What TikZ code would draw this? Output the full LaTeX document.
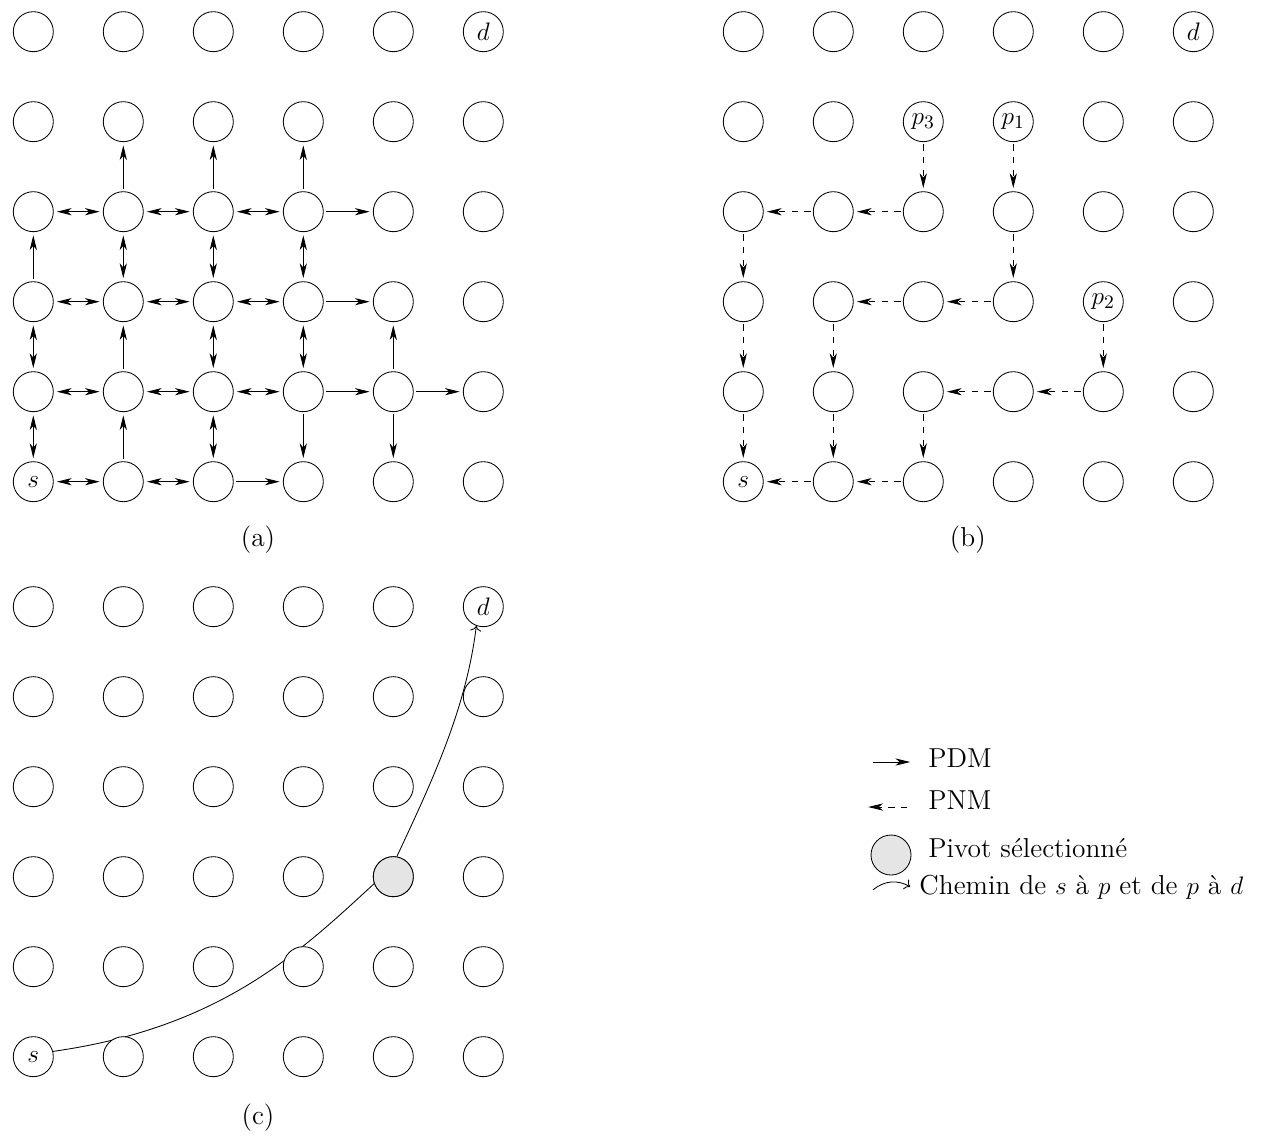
\documentclass[tikz,border=0pt]{standalone}
\usepackage{fontspec}
\usepackage{tikz}
\usetikzlibrary{arrows.meta,backgrounds}

\tikzset{
  noeud/.style={draw, circle, fill=white, minimum size=0.667cm, inner sep=0pt},
  pivot/.style={noeud, fill=gray!20},
  tete/.tip={Stealth[length=7pt,width=3.4pt,inset=2pt]},
  pdm/.style={-tete, shorten >=1.5pt, shorten <=1pt},
  pdmdouble/.style={tete-tete, shorten >=1.5pt, shorten <=1.5pt},
  pnm/.style={-tete, dashed, shorten >=1.5pt, shorten <=1pt},
}

\begin{document}
\begin{tikzpicture}[font=\fontsize{13}{15.6}\selectfont]

\useasboundingbox (0,0) rectangle (21.05,-18.967);

% (a) propagation PDM
\begin{scope}[shift={(0.555,-8.028)}]
\foreach \i in {0,...,5}
  \foreach \j in {0,...,5}
    \node[noeud] (a\i\j) at (1.5*\i,1.5*\j) {};
\node (as) at (a00) {$s$};
\node (ad) at (a55) {$d$};

\foreach \u/\v in {00/10,10/20,01/11,11/21,21/31,02/12,12/22,22/32,03/13,13/23,23/33,
                   00/01,01/02,12/13,20/21,21/22,22/23,31/32,32/33}
  \draw[pdmdouble] (a\u) -- (a\v);
\foreach \u/\v in {20/30,31/41,41/51,32/42,33/43,02/03,10/11,11/12,13/14,
                   23/24,31/30,33/34,41/40,41/42}
  \draw[pdm] (a\u) -- (a\v);
\end{scope}

% (b) propagation PNM
\begin{scope}[shift={(12.388,-8.028)}]
\foreach \i in {0,...,5}
  \foreach \j in {0,...,5}
    \node[noeud] (b\i\j) at (1.5*\i,1.5*\j) {};
\node (bs) at (b00) {$s$};
\node (bd) at (b55) {$d$};
\node (bp1) at (b34) {$p_1$};
\node (bp2) at (b42) {$p_2$};
\node (bp3) at (b24) {$p_3$};

\foreach \u/\v in {24/23,23/13,13/03,03/02,02/01,01/00,
                   34/33,33/32,32/22,22/12,12/11,11/10,10/00,
                   42/41,41/31,31/21,21/20,20/10}
  \draw[pnm] (b\u) -- (b\v);
\end{scope}

% (c) pivot et chemin
\begin{scope}[shift={(0.555,-17.611)}]
\foreach \i in {0,...,5}
  \foreach \j in {0,...,5}
    \node[noeud] (c\i\j) at (1.5*\i,1.5*\j) {};
\node[pivot] (cp) at (c42) {};
\node (cs) at (c00) {$s$};
\node (cd) at (c55) {$d$};

\begin{scope}[on background layer]
\draw (c00.15) .. controls (3.1,0.48) and (4.4,1.7) .. (cp.200);
\draw[->] (cp.80) .. controls (6.65,4.6) and (7.215,5.797) .. (c55.-110);
\end{scope}
\end{scope}

\node (la) at (4.3,-9.0) {(a)};
\node (lb) at (16.13,-9.0) {(b)};
\node (lc) at (4.3,-18.62) {(c)};

% legende
\coordinate (pdmA) at (14.55,-12.7);
\coordinate (pdmB) at (15.17,-12.7);
\draw[-tete] (pdmA) -- (pdmB);
\node[anchor=west] (tpdm) at (15.35,-12.63) {PDM};

\coordinate (pnmA) at (15.12,-13.45);
\coordinate (pnmB) at (14.47,-13.45);
\draw[-tete, dashed] (pnmA) -- (pnmB);
\node[anchor=west] (tpnm) at (15.35,-13.33) {PNM};

\node[pivot] (lpiv) at (14.85,-14.25) {};
\node[anchor=west] (tpiv) at (15.35,-14.13) {Pivot sélectionné};

\coordinate (chA) at (14.55,-14.83);
\coordinate (chB) at (15.17,-14.78);
\draw[->] (chA) to[bend left=35] (chB);
\node[anchor=west] (tch) at (15.2,-14.78) {Chemin de $s$ à $p$ et de $p$ à $d$};

\end{tikzpicture}
\end{document}
